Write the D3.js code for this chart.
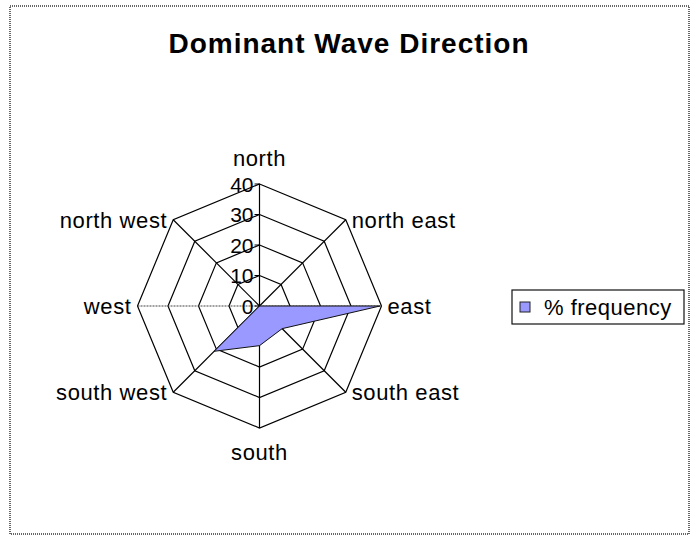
<!DOCTYPE html>
<html>
<head>
<meta charset="utf-8">
<title>Dominant Wave Direction</title>
<script src="https://d3js.org/d3.v7.min.js"></script>
<style>
  body { margin: 0; background: #fff; }
  svg text { font-family: "Liberation Sans", Arial, sans-serif; fill: #000; }
</style>
</head>
<body>
<svg id="chart" width="693" height="536"></svg>
<script>
// data
const directions = ["north", "north east", "east", "south east", "south", "south west", "west", "north west"];
const frequency = [0, 0, 39.5, 10.5, 13, 21, 0, 0];
const radialTicks = [0, 10, 20, 30, 40];
const seriesName = "% frequency";

const svg = d3.select("#chart");
const cx = 259.5, cy = 306;

const r = d3.scaleLinear().domain([0, 40]).range([0, 122]);
const angle = d3.scaleLinear().domain([0, directions.length]).range([0, 2 * Math.PI]);

function pt(i, v) {
  const a = angle(i);
  return [cx + r(v) * Math.sin(a), cy - r(v) * Math.cos(a)];
}

// outer frame
svg.append("rect")
  .attr("x", 10).attr("y", 6).attr("width", 679).attr("height", 528)
  .attr("fill", "none").attr("stroke", "#666").attr("stroke-width", 2)
  .attr("stroke-dasharray", "1,1");

// title
svg.append("text")
  .attr("x", 349).attr("y", 53)
  .attr("text-anchor", "middle")
  .style("font-size", "28px").style("font-weight", "bold")
  .style("letter-spacing", "1px")
  .text("Dominant Wave Direction");

// grid octagons
const line = d3.line();
radialTicks.slice(1).forEach(function (t) {
  const pts = directions.map((d, i) => pt(i, t));
  svg.append("path")
    .attr("d", line(pts) + "Z")
    .attr("fill", "none").attr("stroke", "#000").attr("stroke-width", 1.2);
});

// spokes
directions.forEach(function (d, i) {
  const p = pt(i, 40);
  svg.append("line")
    .attr("x1", cx).attr("y1", cy).attr("x2", p[0]).attr("y2", p[1])
    .attr("stroke", i % 4 === 2 ? "#444" : "#000").attr("stroke-width", 1.2)
    .attr("stroke-dasharray", i % 4 === 2 ? "2,1" : null);
});

// series polygon
svg.append("path")
  .attr("d", line(frequency.map((v, i) => pt(i, v))) + "Z")
  .attr("fill", "#9999ff").attr("stroke", "#111").attr("stroke-width", 1);

// radial axis ticks
radialTicks.forEach(function (t) {
  const y = cy - r(t);
  svg.append("line")
    .attr("x1", cx - 5).attr("x2", cx).attr("y1", y).attr("y2", y)
    .attr("stroke", "#000");
  svg.append("text")
    .attr("x", cx - 6).attr("y", y).attr("dy", "0.36em")
    .attr("text-anchor", "end")
    .style("font-size", "21px")
    .text(t);
});

// direction labels
directions.forEach(function (d, i) {
  const a = angle(i);
  const s = Math.sin(a), c = Math.cos(a);
  const p = pt(i, 40);
  let x = p[0], y = p[1], anchor = "middle", dy = "0.36em";
  if (Math.abs(s) < 0.01) {
    y = c > 0 ? p[1] - 18 : p[1] + 32;
    dy = "0";
  } else {
    anchor = s > 0 ? "start" : "end";
    x = p[0] + (s > 0 ? 6 : -6);
  }
  svg.append("text")
    .attr("x", x).attr("y", y).attr("dy", dy)
    .attr("text-anchor", anchor)
    .style("font-size", "22px")
    .style("letter-spacing", "0.6px")
    .text(d);
});

// legend
const legend = svg.append("g").attr("transform", "translate(512,290)");
legend.append("rect")
  .attr("width", 172).attr("height", 34)
  .attr("fill", "#fff").attr("stroke", "#111").attr("stroke-width", 1.2);
legend.append("rect")
  .attr("x", 8).attr("y", 12).attr("width", 10).attr("height", 10)
  .attr("fill", "#9999ff").attr("stroke", "#222");
legend.append("text")
  .attr("x", 32).attr("y", 17).attr("dy", "0.36em")
  .style("font-size", "22px")
  .style("letter-spacing", "0.5px")
  .text(seriesName);
</script>
</body>
</html>
